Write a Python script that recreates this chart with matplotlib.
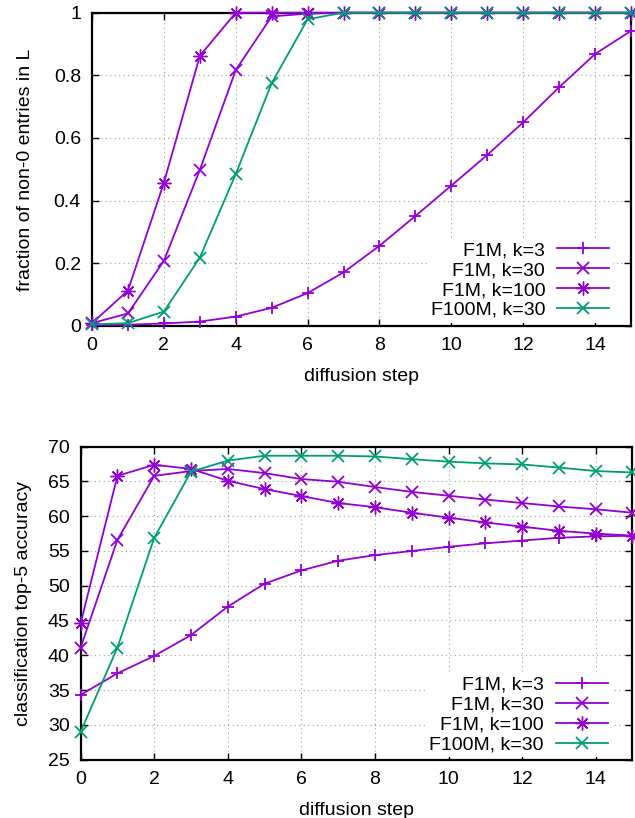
import matplotlib
matplotlib.use("Agg")
import matplotlib.pyplot as plt

plt.rcParams['font.family'] = ['Liberation Sans', 'DejaVu Sans']

steps = list(range(16))

# fraction of non-0 entries in L
frac_k3 = [0.003, 0.004, 0.008, 0.014, 0.03, 0.058, 0.105, 0.171, 0.256, 0.351, 0.448, 0.546, 0.65, 0.762, 0.868, 0.942]
frac_k30 = [0.009, 0.04, 0.208, 0.498, 0.817, 0.988, 0.997, 1, 1, 1, 1, 1, 1, 1, 1, 1]
frac_k100 = [0.009, 0.113, 0.457, 0.862, 1, 1, 1, 1, 1, 1, 1, 1, 1, 1, 1, 1]
frac_100m = [0.005, 0.009, 0.046, 0.218, 0.485, 0.775, 0.979, 1, 1, 1, 1, 1, 1, 1, 1, 1]

# classification top-5 accuracy
acc_k3 = [34.3, 37.4, 39.9, 42.9, 47.0, 50.3, 52.2, 53.6, 54.4, 55.0, 55.6, 56.1, 56.5, 56.9, 57.1, 57.2]
acc_k30 = [41.1, 56.6, 65.8, 66.5, 66.8, 66.2, 65.35, 64.96, 64.2, 63.5, 62.95, 62.4, 61.9, 61.4, 61.0, 60.5]
acc_k100 = [44.6, 65.8, 67.4, 66.8, 65.1, 63.9, 62.9, 61.9, 61.3, 60.5, 59.8, 59.1, 58.5, 57.9, 57.5, 57.2]
acc_100m = [29.0, 41.1, 56.9, 66.4, 68.0, 68.7, 68.7, 68.7, 68.6, 68.2, 67.85, 67.6, 67.45, 67.0, 66.5, 66.3]

labels = ["F1M, k=3", "F1M, k=30", "F1M, k=100", "F100M, k=30"]
purple = "#9400D3"
green = "#009E73"
asterisk = (8, 2, 0)
fs = 14

fig = plt.figure(figsize=(6.35, 8.18), dpi=100)
ax1 = fig.add_axes([0.1449, 0.6015, 0.8488, 0.383])
ax2 = fig.add_axes([0.127, 0.0715, 0.869, 0.3824])


def draw(ax, ys, ylim, yticks, yticklabels, ylabel, ypad, anchor):
    styles = [(purple, '+', 9, 1.3), (purple, 'x', 8, 1.3), (purple, asterisk, 10, 1.0), (green, 'x', 8, 1.3)]
    for y, lab, (c, m, ms, mw) in zip(ys, labels, styles):
        ax.plot(steps, y, color=c, marker=m, ms=ms, mew=mw, lw=1.3,
                label=lab, clip_on=False, zorder=3)
    ax.set_xlim(0, 15)
    ax.set_ylim(*ylim)
    ax.set_xticks(range(0, 15, 2))
    ax.set_yticks(yticks)
    ax.set_yticklabels(yticklabels)
    ax.grid(True, color='#a0a0a0', linestyle=(0, (1, 3)), lw=0.8)
    ax.set_axisbelow(True)
    ax.tick_params(direction='in', top=True, right=True, length=5, width=1,
                   labelsize=fs)
    ax.tick_params(axis='y', pad=8)
    ax.tick_params(axis='x', pad=8)
    for s in ax.spines.values():
        s.set_linewidth(1.6)
    ax.set_xlabel("diffusion step", fontsize=fs, labelpad=10)
    ax.set_ylabel(ylabel, fontsize=fs, labelpad=ypad)
    leg = ax.legend(loc='lower right', bbox_to_anchor=anchor, markerfirst=False,
                    frameon=True, fontsize=fs, handlelength=2.7, handletextpad=0.6,
                    labelspacing=0.12, borderaxespad=0, borderpad=0.2)
    leg.get_frame().set_facecolor('white')
    leg.get_frame().set_edgecolor('none')
    leg.get_frame().set_alpha(1)
    for t in leg.get_texts():
        t.set_ha('right')
    leg._legend_box.align = 'right'


draw(ax1, [frac_k3, frac_k30, frac_k100, frac_100m], (0, 1),
     [0, 0.2, 0.4, 0.6, 0.8, 1], ['0', '0.2', '0.4', '0.6', '0.8', '1'],
     "fraction of non-0 entries in L", 14, (0.967, 0.01))
draw(ax2, [acc_k3, acc_k30, acc_k100, acc_100m], (25, 70),
     list(range(25, 71, 5)), [str(v) for v in range(25, 71, 5)],
     "classification top-5 accuracy", 11, (0.963, 0.007))

fig.savefig("out.png", dpi=100)
